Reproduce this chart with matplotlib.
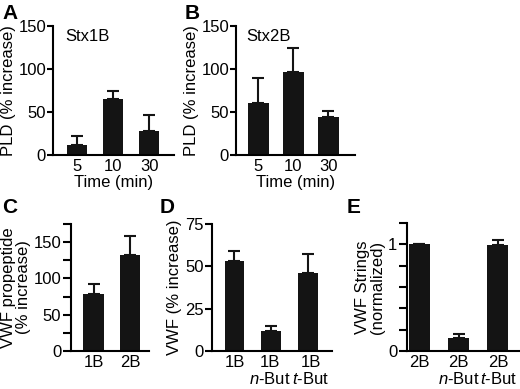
import matplotlib
matplotlib.use('Agg')
from matplotlib import pyplot as plt
from matplotlib.transforms import ScaledTranslation
import numpy as np

plt.rcParams['font.family'] = ['Liberation Sans', 'DejaVu Sans']
plt.rcParams['mathtext.fontset'] = 'custom'
plt.rcParams['mathtext.rm'] = 'Liberation Sans'
plt.rcParams['mathtext.it'] = 'Liberation Sans:italic'
plt.rcParams['font.size'] = 12

# data
times = ['5', '10', '30']
pld_stx1b = [12, 65, 28]
pld_stx1b_err = [10, 9, 18]
pld_stx2b = [61, 97, 44]
pld_stx2b_err = [28, 27, 7]

prop_labels = ['1B', '2B']
propeptide = [78, 132]
propeptide_err = [15, 27]

vwf_labels = ['1B', '1B\n$\\mathit{n}$-But', '1B\n$\\mathit{t}$-But']
vwf = [53, 12, 46]
vwf_err = [6, 3, 11]

str_labels = ['2B', '2B\n$\\mathit{n}$-But', '2B\n$\\mathit{t}$-But']
strings = [1.0, 0.12, 0.99]
strings_err = [0.0, 0.04, 0.05]

W, H = 520, 389
fig = plt.figure(figsize=(W / 100, H / 100), dpi=100)


def make_ax(x0, x1, y0, y1):
    # pixel box -> figure fraction
    return fig.add_axes([x0 / W, 1 - y1 / H, (x1 - x0) / W, (y1 - y0) / H])


def bars(ax, labels, vals, errs, width, xlim):
    x = np.arange(len(vals))
    ax.bar(x, vals, width=width, color='#141414')
    ax.errorbar(x, vals, yerr=[np.zeros(len(vals)), errs], fmt='none',
                ecolor='#141414', elinewidth=1.5, capsize=4.3, capthick=1.5)
    ax.set_xticks(x)
    ax.set_xticklabels(labels, linespacing=1.1)
    ax.set_xlim(xlim)
    for s in ['top', 'right']:
        ax.spines[s].set_visible(False)
    for s in ['left', 'bottom']:
        ax.spines[s].set_linewidth(1.5)
    ax.tick_params(axis='x', length=0, pad=3)
    ax.tick_params(axis='y', length=4, width=1.5, pad=1)


def nudge(ax, idx, dx_px):
    lab = ax.get_xticklabels()[idx]
    lab.set_transform(lab.get_transform() +
                      ScaledTranslation(dx_px / 100, 0, fig.dpi_scale_trans))


ax1 = make_ax(53, 174, 26, 155)
bars(ax1, times, pld_stx1b, pld_stx1b_err, 0.57, (-0.67, 2.69))
ax1.set_ylim(0, 150)
ax1.set_yticks([0, 50, 100, 150])
ax1.set_ylabel('PLD (% increase)', labelpad=2)
ax1.set_xlabel('Time (min)', labelpad=0.5)
ax1.text(0.1, 0.92, 'Stx1B', transform=ax1.transAxes, va='center')

ax2 = make_ax(236, 355, 26, 155)
bars(ax2, times, pld_stx2b, pld_stx2b_err, 0.6, (-0.64, 2.76))
ax2.set_ylim(0, 150)
ax2.set_yticks([0, 50, 100, 150])
ax2.set_ylabel('PLD (% increase)', labelpad=2)
ax2.set_xlabel('Time (min)', labelpad=0.5)
ax2.text(0.09, 0.92, 'Stx2B', transform=ax2.transAxes, va='center')

ax3 = make_ax(71, 149, 224, 351)
bars(ax3, prop_labels, propeptide, propeptide_err, 0.57, (-0.62, 1.52))
ax3.set_ylim(0, 175)
ax3.set_yticks(np.arange(0, 176, 25))
ax3.set_yticklabels(['0', '', '50', '', '100', '', '150', ''])
ax3.tick_params(axis='y', length=6)
ax3.set_ylabel('VWF propeptide\n(% increase)', labelpad=2, linespacing=1.0)

ax4 = make_ax(212, 332, 224, 351)
bars(ax4, vwf_labels, vwf, vwf_err, 0.54, (-0.61, 2.65))
ax4.set_ylim(0, 75)
ax4.set_yticks([0, 25, 50, 75])
ax4.tick_params(axis='y', length=5)
ax4.set_ylabel('VWF (% increase)', labelpad=2)
nudge(ax4, 1, -1.5)
nudge(ax4, 2, 2.5)

ax5 = make_ax(407, 519, 223, 351)
bars(ax5, str_labels, strings, strings_err, 0.54, (-0.32, 2.55))
ax5.set_ylim(0, 1.2)
ax5.set_yticks(np.arange(0, 1.21, 0.2))
ax5.set_yticklabels(['0', '', '', '', '', '1', ''])
ax5.tick_params(axis='y', length=6)
ax5.set_ylabel('VWF Strings\n(normalized)', labelpad=2, linespacing=1.0)
nudge(ax5, 2, 1)

for lab, px, py in [('A', 2, 19), ('B', 185, 19), ('C', 2, 213),
                    ('D', 160, 213), ('E', 347, 213)]:
    fig.text(px / W, 1 - py / H, lab, fontsize=15, fontweight='bold',
             va='baseline', ha='left')

fig.savefig('out.png', dpi=100)
